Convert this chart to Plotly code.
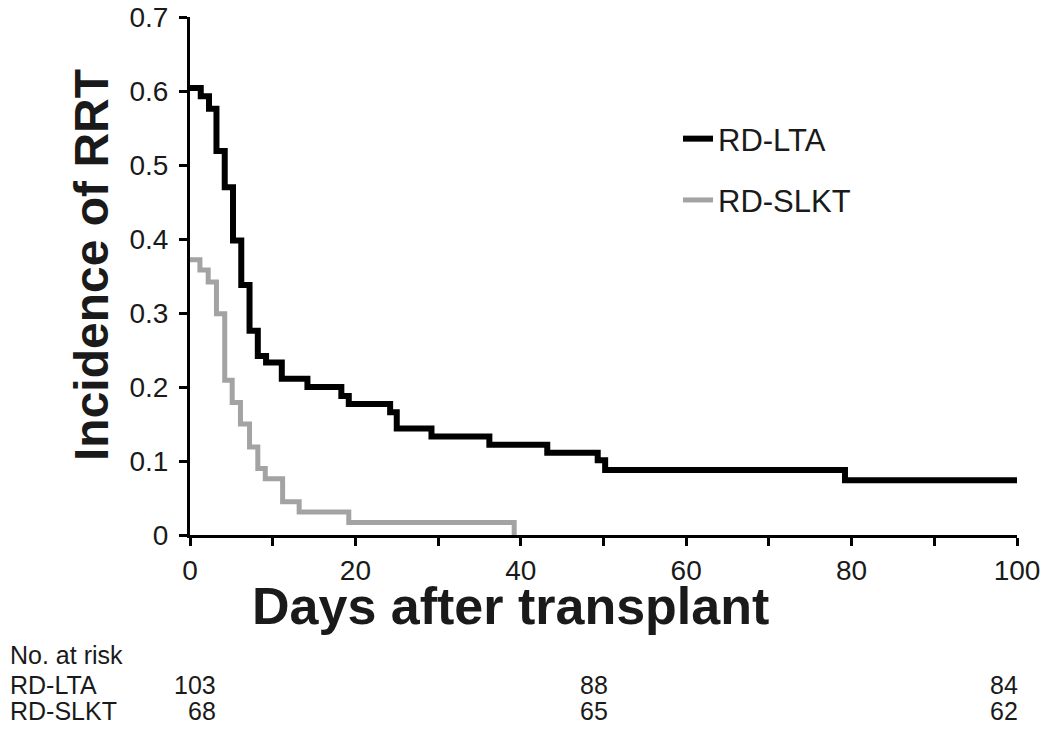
import plotly.graph_objects as go

# ---------------------------------------------------------------------------
# Datos
# ---------------------------------------------------------------------------
LTA_DAYS = [0, 1.3, 2.3, 3.2, 4.2, 5.2, 6.2, 7.2, 8.2, 9.2, 11.1, 14.2, 18.3,
            19.2, 24.2, 25.0, 29.2, 36.2, 43.2, 49.3, 50.2, 79.2, 100]
LTA_INC = [0.604, 0.593, 0.576, 0.519, 0.470, 0.398, 0.338, 0.276, 0.242,
           0.233, 0.211, 0.200, 0.188, 0.177, 0.166, 0.144, 0.133, 0.122,
           0.111, 0.101, 0.088, 0.074, 0.074]

SLKT_DAYS = [0, 1.2, 2.2, 3.2, 4.2, 5.1, 6.1, 7.2, 8.2, 9.1, 11.2, 13.2,
             19.2, 39.2]
SLKT_INC = [0.372, 0.358, 0.342, 0.299, 0.209, 0.179, 0.150, 0.119, 0.090,
            0.076, 0.045, 0.031, 0.017, 0.0]

RISK_DAYS = [3.0, 50.4, 100]
RISK_LTA = [103, 88, 84]
RISK_SLKT = [68, 65, 62]

X_TICKS = [0, 20, 40, 60, 80, 100]
Y_TICKS = [0, 0.1, 0.2, 0.3, 0.4, 0.5, 0.6, 0.7]

BLACK = "#000000"
GREY = "#a3a3a3"
TEXT = "#1a1a1a"
FONT = "Liberation Sans, Arial, sans-serif"

# el body de la página tiene 8 px de margen: la figura se achica para que
# no aparezcan barras de scroll, y las posiciones se dan en px de pantalla
OFF = 8
W, H = 1050 - 2 * OFF, 731 - 2 * OFF
L, T = 190 - OFF, 17 - OFF
R = W - (1017 - OFF)
B = H - (535 - OFF)
PW, PH = W - L - R, H - T - B


def py(pix):
    """Pixel de pantalla (vertical) -> coordenada paper."""
    return (H - B - (pix - OFF)) / PH


def px_(pix):
    """Pixel de pantalla (horizontal) -> coordenada paper."""
    return (pix - OFF - L) / PW


fig = go.Figure()
fig.add_trace(go.Scatter(
    x=LTA_DAYS, y=LTA_INC, mode="lines", name="RD-LTA",
    line=dict(color=BLACK, width=6, shape="hv"), legendgroup="a",
))
fig.add_trace(go.Scatter(
    x=SLKT_DAYS, y=SLKT_INC, mode="lines", name="RD-SLKT",
    line=dict(color=GREY, width=5, shape="hv"), legendgroup="b",
))

axis_common = dict(
    showline=True, linecolor=BLACK, linewidth=3, showgrid=False,
    zeroline=False, ticks="outside", ticklen=8, tickwidth=3,
    tickcolor=BLACK, tickfont=dict(family=FONT, size=28, color=TEXT),
    ticklabeloverflow="allow", automargin=False,
)

fig.update_layout(
    width=W, height=H,
    paper_bgcolor="white", plot_bgcolor="white",
    margin=dict(l=L, r=R, t=T, b=B, autoexpand=False),
    font=dict(family=FONT, color=TEXT),
    xaxis=dict(**axis_common, range=[0, 100], tickvals=X_TICKS,
               ticklabelstandoff=0,
               minor=dict(dtick=10, ticks="outside", ticklen=8,
                          tickwidth=3, tickcolor=BLACK)),
    yaxis=dict(**axis_common, range=[0, 0.7], tickvals=Y_TICKS,
               ticktext=[f"{v:g}" for v in Y_TICKS], ticklabelstandoff=5),
    showlegend=True,
    legend=dict(x=px_(678), y=py(112), xanchor="left", yanchor="top",
                font=dict(family=FONT, size=31, color=TEXT),
                bgcolor="rgba(0,0,0,0)", tracegroupgap=18),
)

# titulos de ejes
fig.add_annotation(text="<b>Days after transplant</b>", xref="paper", yref="paper",
                   x=px_(510), y=py(606), xanchor="center", yanchor="middle",
                   showarrow=False, font=dict(family=FONT, size=52, color=TEXT))
fig.add_annotation(text="<b>Incidence of RRT</b>", xref="paper", yref="paper",
                   x=px_(91), y=py(265), xanchor="center", yanchor="middle",
                   showarrow=False, textangle=-90,
                   font=dict(family=FONT, size=48, color=TEXT))

# tabla de pacientes en riesgo
rows = [("No. at risk", 655, None), ("RD-LTA", 685, RISK_LTA),
        ("RD-SLKT", 711, RISK_SLKT)]
for label, ypix, vals in rows:
    fig.add_annotation(text=label, xref="paper", yref="paper",
                       x=px_(OFF), y=py(ypix), xanchor="left", yanchor="middle",
                       showarrow=False,
                       font=dict(family=FONT, size=25, color=TEXT))
    if vals is None:
        continue
    for d, v in zip(RISK_DAYS, vals):
        fig.add_annotation(text=str(v), xref="x", yref="paper",
                           x=d, y=py(ypix), xanchor="right", yanchor="middle",
                           xshift=3, showarrow=False,
                           font=dict(family=FONT, size=25, color=TEXT))

fig.write_html("out.html")
